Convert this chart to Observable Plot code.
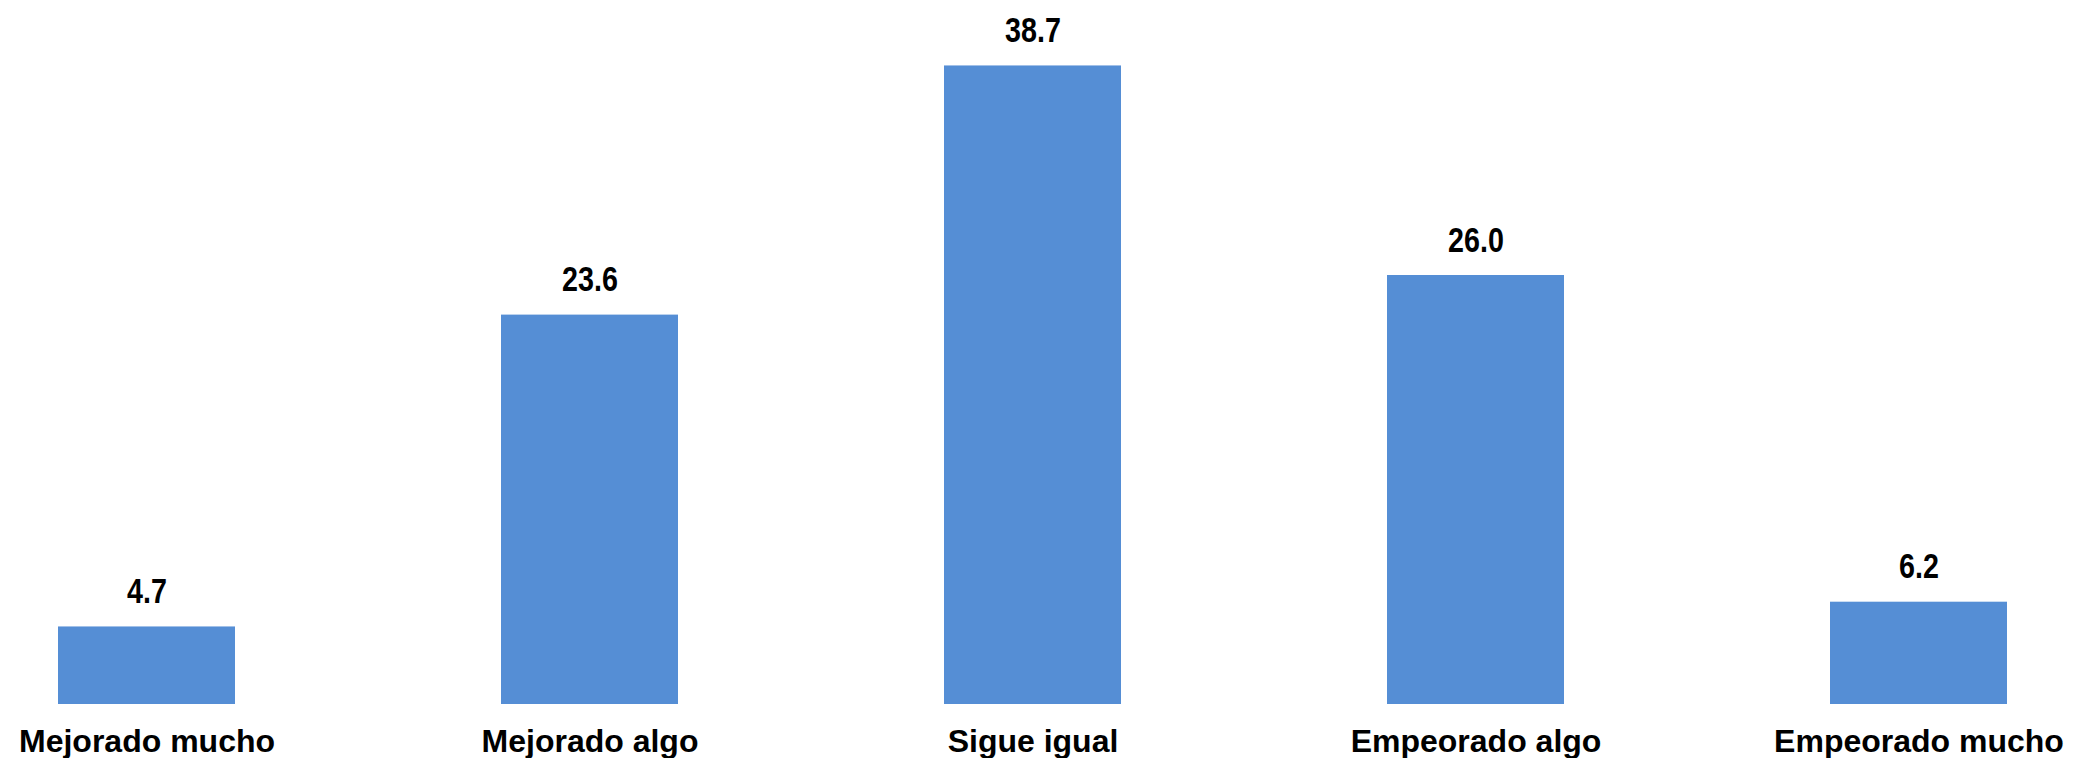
<!DOCTYPE html>
<html>
<head>
<meta charset="utf-8">
<script src="https://cdn.jsdelivr.net/npm/d3@7"></script>
<script src="https://cdn.jsdelivr.net/npm/@observablehq/plot@0.6"></script>
<style>
  html, body { margin: 0; padding: 0; background: #fff; }
  #chart svg { display: block; }
</style>
</head>
<body>
<div id="chart"></div>
<script>
const categories = ["Mejorado mucho", "Mejorado algo", "Sigue igual", "Empeorado algo", "Empeorado mucho"];
const values = [4.7, 23.6, 38.7, 26.0, 6.2];

const data = categories.map((c, i) => ({category: c, value: values[i]}));

const chart = Plot.plot({
  width: 2080,
  height: 758,
  marginLeft: 58,
  marginRight: 72,
  marginTop: 11,
  marginBottom: 54,
  style: {background: "#fff", color: "#000"},
  x: {domain: categories, paddingInner: 0.6, paddingOuter: 0, label: null},
  y: {domain: [0, 42], axis: null},
  marks: [
    Plot.barY(data, {x: "category", y: "value", fill: "#558ED5"}),
    Plot.text(data, {
      x: "category", y: "value",
      text: d => d.value.toFixed(1),
      lineAnchor: "bottom", dy: -24,
      fontSize: 35, fontWeight: "bold", fill: "#000",
      fontFamily: "'Liberation Sans', Arial, sans-serif",
      className: "vlab"
    }),
    Plot.axisX({
      tickSize: 0, tickPadding: 25,
      fontSize: 32, fontWeight: "bold",
      fontFamily: "'Liberation Sans', Arial, sans-serif",
      fill: "#000", label: null
    })
  ]
});
document.getElementById("chart").appendChild(chart);

// emulate the condensed (narrow) face of the value labels
chart.querySelectorAll("g.vlab text").forEach(t => {
  const b = t.getBBox();
  const cx = b.x + b.width / 2;
  const prev = t.getAttribute("transform") || "";
  // bbox is in the element's own coords (before its transform)
  t.setAttribute("transform", `${prev} translate(${cx},0) scale(0.82,1) translate(${-cx},0)`);
});
</script>
</body>
</html>
